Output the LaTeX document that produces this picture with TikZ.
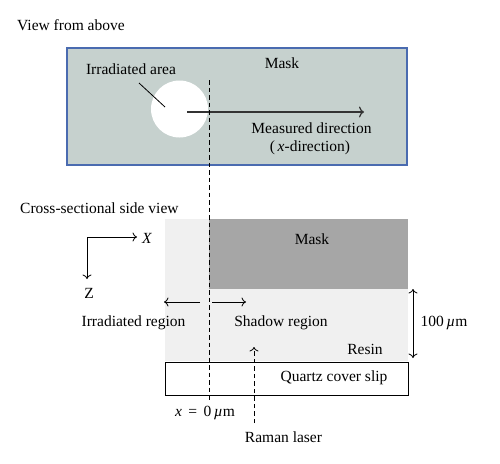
\documentclass[tikz,border=0pt]{standalone}
\usepackage{fontspec}
\setmainfont{Liberation Serif}
\usetikzlibrary{arrows.meta}
\definecolor{topfill}{HTML}{C6D1CE}
\definecolor{topborder}{HTML}{4A6BB0}
\definecolor{maskdark}{HTML}{A6A6A6}
\definecolor{resin}{HTML}{F0F0F0}
\definecolor{arrowdark}{HTML}{333333}
\begin{document}
\begin{tikzpicture}[x=1pt,y=-1pt,
  txt/.style={inner sep=0pt, font=\fontsize{15.5}{18}\selectfont},
  dashline/.style={dash pattern=on 4.5pt off 3pt, line width=0.9pt},
  thinarrow/.style={-{To[length=4.5pt,width=9pt]}, line width=0.8pt},
  dblarrow/.style={{To[length=4.5pt,width=9pt]}-{To[length=4.5pt,width=9pt]}, line width=0.8pt}]
\useasboundingbox (0,0) rectangle (500,463);
% ---- view from above ----
\node[txt, anchor=west] (title1) at (17,25) {View from above};
\node[draw=topborder, fill=topfill, line width=1.4pt, minimum width=340pt, minimum height=117pt, inner sep=0pt] (topmask) at (237,106.5) {};
\node[circle, fill=white, minimum size=57pt, inner sep=0pt] (area) at (179.5,109) {};
\node[txt] (areaLbl) at (131,69) {Irradiated area};
\node[txt] (maskTop) at (282,63) {Mask};
\coordinate (leadA) at (139,83);
\coordinate (leadB) at (165,107);
\draw[line width=0.8pt] (leadA) -- (leadB);
\coordinate (mStart) at (187,112);
\coordinate (mEnd) at (364,112);
\draw[arrowdark, line width=1.8pt, -{To[length=5pt,width=11pt,line width=1.2pt]}] (mStart) -- (mEnd);
\node[txt] (meas1) at (311.5,128) {Measured direction};
\node[txt] (meas2) at (310,148) {(\,\textit{x}-direction)};
% ---- cross-sectional side view ----
\node[txt, anchor=west] (title2) at (20,208) {Cross-sectional side view};
\node[fill=resin, minimum width=243pt, minimum height=142pt, inner sep=0pt] (resinbox) at (286.5,290) {};
\node[fill=maskdark, minimum width=199pt, minimum height=70pt, inner sep=0pt] (maskbox) at (308.5,254) {};
\node[txt] (maskLbl) at (312,239) {Mask};
\node[draw, fill=white, line width=0.9pt, minimum width=243pt, minimum height=33pt, inner sep=0pt] (quartz) at (286.5,378.5) {};
\node[txt] (quartzLbl) at (334,378) {Quartz cover slip};
\node[txt] (resinLbl) at (365,349) {Resin};
% axes
\coordinate (orig) at (87,237);
\coordinate (xEnd) at (137,237);
\coordinate (zEnd) at (87,279);
\draw[thinarrow] (orig) -- (xEnd);
\draw[thinarrow] (orig) -- (zEnd);
\node[txt] (xLbl) at (147,238) {\textit{X}};
\node[txt] (zLbl) at (89,293) {Z};
% region arrows
\coordinate (lA) at (200,302);
\coordinate (lB) at (164,302);
\coordinate (rA) at (212,302);
\coordinate (rB) at (246,302);
\draw[thinarrow] (lA) -- (lB);
\draw[thinarrow] (rA) -- (rB);
\node[txt] (irrLbl) at (133.5,323) {Irradiated region};
\node[txt] (shadowLbl) at (281,323) {Shadow region};
% thickness
\coordinate (tTop) at (413,289);
\coordinate (tBot) at (413,358);
\draw[dblarrow] (tTop) -- (tBot);
\node[txt] (thick) at (444,323) {100\,\textit{µ}m};
% dashed zero line
\coordinate (zeroTop) at (209,80);
\coordinate (zeroBot) at (209,401);
\draw[dashline] (zeroTop) -- (zeroBot);
\node[txt] (zeroLbl) at (205,413) {\textit{x}\, =\, 0\,\textit{µ}m};
% Raman laser
\coordinate (ramanBot) at (254,423);
\coordinate (ramanTop) at (254,347);
\draw[dashline, -{To[length=4.5pt,width=9pt,line width=0.8pt]}] (ramanBot) -- (ramanTop);
\node[txt] (ramanLbl) at (283.5,437) {Raman laser};
\end{tikzpicture}
\end{document}
